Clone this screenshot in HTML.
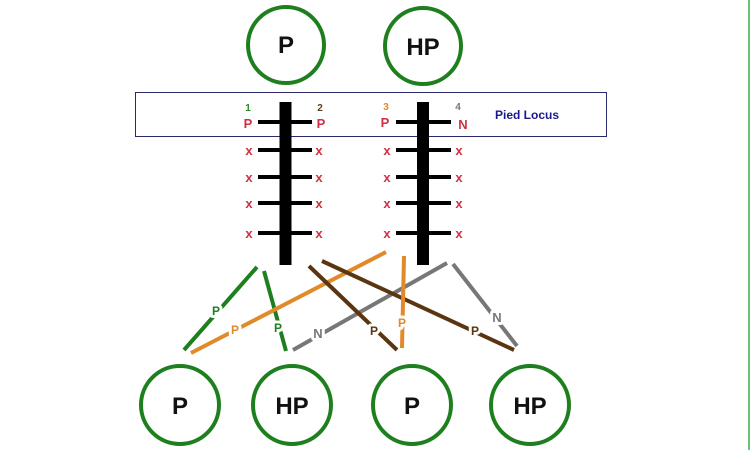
<!DOCTYPE html>
<html><head><meta charset="utf-8"><style>
html,body{margin:0;padding:0;background:#fff;}
svg{display:block;font-family:"Liberation Sans",Arial,sans-serif;}
</style></head><body>
<svg width="750" height="450" viewBox="0 0 750 450" xmlns="http://www.w3.org/2000/svg">
<rect width="750" height="450" fill="#fff"/>
<line x1="749" y1="0" x2="749" y2="450" stroke="#3fae4a" stroke-width="1.5"/>
<g fill="none" stroke="#1e7f1e" stroke-width="4">
<circle cx="286" cy="45" r="38"/>
<circle cx="423" cy="46" r="38"/>
<circle cx="180" cy="405" r="39"/>
<circle cx="292" cy="405" r="39"/>
<circle cx="412" cy="405" r="39"/>
<circle cx="530" cy="405" r="39"/>
</g>
<g font-weight="bold" font-size="24" text-anchor="middle" fill="#111">
<text x="286" y="53">P</text>
<text x="423" y="55">HP</text>
<text x="180" y="414">P</text>
<text x="292" y="414">HP</text>
<text x="412" y="414">P</text>
<text x="530" y="414">HP</text>
</g>
<rect x="135.5" y="92.5" width="471" height="44" fill="none" stroke="#2a2a6a" stroke-width="1"/>
<text x="495" y="119" font-size="12" font-weight="bold" fill="#1a1a8a">Pied Locus</text>
<g fill="#000">
<rect x="279.5" y="102" width="12" height="163"/>
<rect x="417" y="102" width="12" height="163"/>
</g>
<g stroke="#000" stroke-width="4">
<line x1="258" y1="122" x2="312" y2="122"/><line x1="258" y1="150" x2="312" y2="150"/>
<line x1="258" y1="177" x2="312" y2="177"/><line x1="258" y1="203" x2="312" y2="203"/>
<line x1="258" y1="233" x2="312" y2="233"/>
<line x1="396" y1="122" x2="451" y2="122"/><line x1="396" y1="150" x2="451" y2="150"/>
<line x1="396" y1="177" x2="451" y2="177"/><line x1="396" y1="203" x2="451" y2="203"/>
<line x1="396" y1="233" x2="451" y2="233"/>
</g>
<g font-weight="bold" font-size="10" text-anchor="middle">
<text x="248" y="111" fill="#2a8a2a">1</text>
<text x="320" y="111" fill="#5a4020">2</text>
<text x="386" y="110" fill="#e08a2a">3</text>
<text x="458" y="110" fill="#777">4</text>
</g>
<g font-weight="bold" font-size="13" text-anchor="middle" fill="#d03040">
<text x="248" y="128">P</text><text x="321" y="128">P</text>
<text x="385" y="127">P</text><text x="463" y="129">N</text>
</g>
<g font-weight="bold" font-size="13" text-anchor="middle" fill="#d03040">
<text x="249" y="155">x</text><text x="319" y="155">x</text>
<text x="249" y="182">x</text><text x="319" y="182">x</text>
<text x="249" y="208">x</text><text x="319" y="208">x</text>
<text x="249" y="238">x</text><text x="319" y="238">x</text>
<text x="387" y="155">x</text><text x="459" y="155">x</text>
<text x="387" y="182">x</text><text x="459" y="182">x</text>
<text x="387" y="208">x</text><text x="459" y="208">x</text>
<text x="387" y="238">x</text><text x="459" y="238">x</text>
</g>
<g stroke-width="4" stroke-linecap="butt">
<line x1="257" y1="267" x2="184" y2="350" stroke="#1e7f1e"/>
<line x1="264" y1="271" x2="286" y2="351" stroke="#1e7f1e"/>
<line x1="386" y1="252" x2="191" y2="353" stroke="#e08a2a"/>
<line x1="447" y1="263" x2="293" y2="350" stroke="#777"/>
<line x1="309" y1="266" x2="397" y2="350" stroke="#5a3510"/>
<line x1="322" y1="261" x2="514" y2="350" stroke="#5a3510"/>
<line x1="404" y1="256" x2="402" y2="348" stroke="#e08a2a"/>
<line x1="453" y1="264" x2="517" y2="346" stroke="#777"/>
</g>
<g font-weight="bold" font-size="12" text-anchor="middle" stroke="#fff" stroke-width="6" paint-order="stroke" stroke-linejoin="round">
<text x="216" y="315" fill="#1e7f1e">P</text>
<text x="278" y="332" fill="#1e7f1e">P</text>
<text x="235" y="334" fill="#e08a2a">P</text>
<text x="318" y="338" fill="#777" font-size="13">N</text>
<text x="374" y="335" fill="#5a3510">P</text>
<text x="475" y="335" fill="#5a3510">P</text>
<text x="402" y="327" fill="#e08a2a">P</text>
<text x="497" y="322" fill="#777" font-size="13">N</text>
</g>
</svg>
</body></html>
